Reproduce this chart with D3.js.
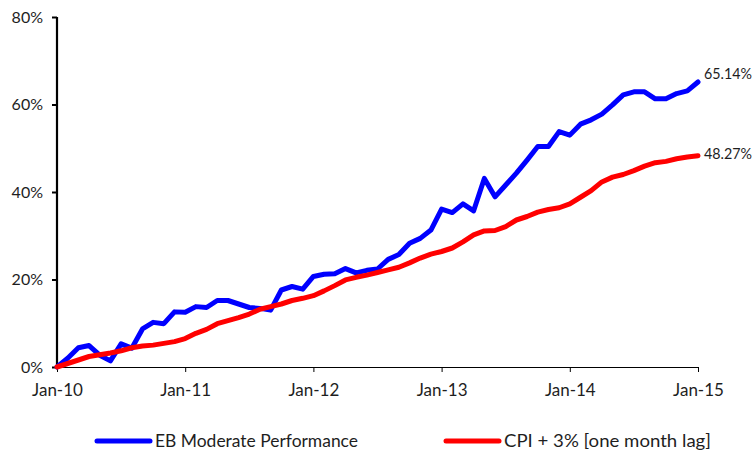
<!DOCTYPE html>
<html><head><meta charset="utf-8">
<script src="https://cdn.jsdelivr.net/npm/d3@7"></script>
<style>
body{margin:0;background:#fff;}
text{font-family:"Lato","Noto Sans",sans-serif;fill:#1e1e1e;}
</style></head>
<body><svg id="c" width="755" height="454"></svg>
<script>
const seriesNames = ["EB Moderate Performance", "CPI + 3% [one month lag]"];
const yTicks = [0, 20, 40, 60, 80];
const xTickLabels = ["Jan-10","Jan-11","Jan-12","Jan-13","Jan-14","Jan-15"];
const ebModerate = [0,2.0,4.4,4.9,2.7,1.4,5.3,4.3,8.7,10.2,9.9,12.6,12.5,13.8,13.6,15.2,15.2,14.4,13.6,13.4,13.0,17.6,18.4,17.8,20.7,21.2,21.3,22.5,21.5,22.1,22.4,24.6,25.7,28.3,29.4,31.3,36.1,35.3,37.3,35.7,43.1,38.9,41.6,44.3,47.3,50.4,50.4,53.8,53.0,55.5,56.5,57.8,59.9,62.2,62.9,62.9,61.3,61.3,62.5,63.1,65.14];
const cpiPlus3 = [0,0.8,1.6,2.4,2.8,3.2,3.7,4.4,4.8,5.0,5.4,5.8,6.5,7.7,8.6,9.9,10.6,11.3,12.1,13.2,13.8,14.4,15.2,15.7,16.3,17.4,18.6,19.9,20.5,21.0,21.6,22.2,22.8,23.8,24.9,25.8,26.4,27.2,28.6,30.2,31.1,31.2,32.1,33.6,34.4,35.4,36.0,36.4,37.3,38.8,40.3,42.3,43.4,44.0,44.9,45.9,46.7,47.0,47.6,48.0,48.27];
const endLabels = ["65.14%", "48.27%"];
const colors = ["#0000ff", "#ff0000"];
const labelShift = [-9, -2];

const svg = d3.select("#c");
const x = d3.scaleLinear().domain([0, 60]).range([57, 698]);
const y = d3.scaleLinear().domain([0, 80]).range([367, 17]);

// y axis
const yAxis = d3.axisLeft(y).tickValues(yTicks).tickSize(5).tickPadding(9).tickFormat(d => d + "%");
const gy = svg.append("g").attr("transform", "translate(57,0)").call(yAxis);
gy.select(".domain").attr("stroke", "#000").attr("stroke-width", 2.2).attr("d", `M0,${y(80)}V${y(0)}`);
gy.selectAll(".tick line").attr("stroke", "#000").attr("stroke-width", 2);
gy.selectAll("text").style("font-size", "16px").attr("fill", "#1e1e1e").attr("font-family", null);

// x axis
const xAxis = d3.axisBottom(x).tickValues(xTickLabels.map((d, i) => i * 12)).tickSize(5).tickPadding(12)
  .tickFormat((d, i) => xTickLabels[i]);
const gx = svg.append("g").attr("transform", `translate(0,${y(0)})`).call(xAxis);
gx.select(".domain").attr("stroke", "#000").attr("stroke-width", 1).attr("d", `M${x(0)},0.5H${x(60)}`);
gx.selectAll(".tick line").attr("stroke", "#000").attr("stroke-width", 1);
gx.selectAll("text").style("font-size", "17px").attr("fill", "#1e1e1e").attr("font-family", null);

const line = d3.line().x((d, i) => x(i)).y(d => y(d));
[ebModerate, cpiPlus3].forEach((s, k) => {
  svg.append("path").datum(s).attr("d", line).attr("fill", "none")
    .attr("stroke", colors[k]).attr("stroke-width", 5).attr("stroke-linejoin", "round").attr("stroke-linecap", "round");
  svg.append("text").attr("x", x(60) + 6).attr("y", y(s[s.length - 1]) + 5.5 + labelShift[k])
    .style("font-size", "15.5px").attr("textLength", 48).attr("lengthAdjust", "spacingAndGlyphs")
    .text(endLabels[k]);
});

// legend
const legX = [97, 446];
seriesNames.forEach((n, k) => {
  const g = svg.append("g").attr("transform", `translate(${legX[k]},441)`);
  g.append("line").attr("x1", 0).attr("x2", 53).attr("y1", 0).attr("y2", 0)
    .attr("stroke", colors[k]).attr("stroke-width", 5).attr("stroke-linecap", "round");
  g.append("text").attr("x", 58).attr("y", 6).style("font-size", "17px")
    .attr("textLength", k === 0 ? 203 : 207).attr("lengthAdjust", "spacingAndGlyphs").text(n);
});
</script></body></html>
